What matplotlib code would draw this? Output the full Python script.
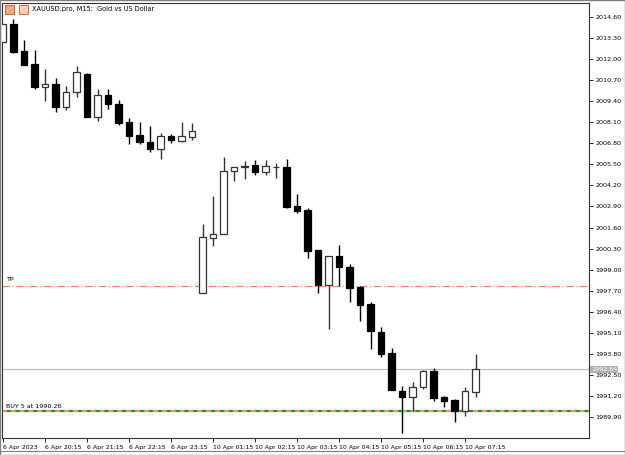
import matplotlib
matplotlib.use("Agg")
import matplotlib.pyplot as plt
from matplotlib.patches import Rectangle

opens = [2013.06,2014.17,2012.50,2011.70,2010.28,2010.46,2009.04,2009.97,2011.08,2008.42,
         2009.78,2009.23,2008.11,2007.31,2006.88,2006.45,2007.25,2006.94,2007.19,
         1997.55,2000.95,2001.20,2005.09,2005.33,2005.46,2005.03,2005.33,2005.33,2002.93,
         2002.68,2000.21,1998.05,1999.84,1999.16,1997.92,1996.87,1995.14,1993.85,1991.50,
         1991.13,1991.75,1992.73,1991.13,1990.94,1990.26,1991.44]
highs = [2014.17,2014.48,2013.18,2012.56,2011.39,2010.83,2010.34,2011.57,2011.14,2010.15,
         2010.15,2009.47,2008.36,2008.11,2007.87,2007.43,2007.37,2008.11,2008.05,
         2001.81,2003.54,2005.95,2005.33,2005.70,2005.77,2005.77,2005.58,2005.83,2003.67,
         2002.80,2000.21,1999.84,2000.52,1999.34,1997.98,1997.00,1995.45,1994.15,1991.81,
         1992.05,1992.80,1992.92,1991.19,1991.00,1991.75,1993.78]
lows = [2013.06,2012.38,2011.63,2010.15,2009.41,2008.73,2008.86,2009.66,2008.42,2008.18,
        2008.92,2007.93,2006.76,2006.76,2006.26,2005.83,2006.82,2006.90,2007.00,
        1997.55,2000.45,2001.20,2004.47,2004.59,2004.84,2004.84,2004.66,2002.80,2002.49,
        1999.71,1997.55,1995.33,1997.98,1997.00,1995.82,1994.09,1993.60,1991.56,1988.90,
        1990.26,1991.62,1990.88,1990.51,1989.58,1989.95,1991.13]
closes = [2014.17,2012.44,2011.63,2010.28,2010.46,2009.04,2009.97,2011.20,2008.42,2009.78,
          2009.23,2008.05,2007.25,2006.88,2006.45,2007.25,2007.00,2007.25,2007.56,
          2001.01,2001.20,2005.09,2005.33,2005.40,2005.03,2005.40,2005.35,2002.86,2002.62,
          2000.15,1998.05,1999.84,1999.16,1997.86,1996.81,1995.20,1993.78,1991.56,1991.13,
          1991.75,1992.73,1991.07,1990.88,1990.26,1991.50,1992.86]
x_labels = ["6 Apr 2023","6 Apr 20:15","6 Apr 21:15","6 Apr 22:15","6 Apr 23:15",
            "10 Apr 01:15","10 Apr 02:15","10 Apr 03:15","10 Apr 04:15","10 Apr 05:15",
            "10 Apr 06:15","10 Apr 07:15"]
y_ticks = [1989.90,1991.20,1992.50,1993.80,1995.10,1996.40,1997.70,1999.00,2000.30,2001.60,
           2002.90,2004.20,2005.50,2006.80,2008.10,2009.40,2010.70,2012.00,2013.30,2014.60]
current_price = 1992.84
tp_price = 1997.98
buy_price = 1990.26
buy_label = "BUY 5 at 1990.26"
title = "XAUUSD.pro, M15:  Gold vs US Dollar"

W, H = 625, 455
fig = plt.figure(figsize=(6.25, 4.55), dpi=100)
ax = fig.add_axes([2/W, 1-438/H, 587/W, 435/H])
ax.set_xlim(-0.095, 55.8)
ax.set_ylim(1988.60, 2015.465)

bw = 0.62
for i, (o, h, l, c) in enumerate(zip(opens, highs, lows, closes)):
    bull = c >= o
    ax.vlines(i, l, h, color="#000000" if not bull else "#333333", lw=1, zorder=3)
    lo, hi = min(o, c), max(o, c)
    ax.add_patch(Rectangle((i - bw/2, lo), bw, max(hi - lo, 0.02),
                           facecolor="white" if bull else "black",
                           edgecolor="#333333" if bull else "black", lw=0.9, zorder=4))

ax.axhline(current_price, color="#c0c0c0", lw=0.9, zorder=1)
ax.axhline(tp_price, color="#ff7f50", lw=0.9, ls=(0, (6, 2, 1, 2)), zorder=2)
ax.axhline(buy_price, color="#ff9060", lw=1.6, ls=(0, (2, 2)), zorder=2)
ax.axhline(buy_price, color="#2e8b2e", lw=1.6, ls=(2, (2, 2)), zorder=2)
ax.text(0.3, tp_price + 0.25, "TP", fontsize=4.6, va="bottom", ha="left")
ax.text(0.3, buy_price + 0.12, buy_label, fontsize=4.6, va="bottom", ha="left")

ax.yaxis.tick_right()
ax.set_yticks(y_ticks)
ax.set_yticklabels([f"{v:.2f}" for v in y_ticks], fontsize=4.6)
ax.tick_params(axis="y", length=3, width=0.6, pad=1.5)
ax.set_xticks(list(range(0, 46, 4)))
ax.set_xticklabels(x_labels, fontsize=4.5, ha="left")
ax.tick_params(axis="x", length=3, width=0.6, pad=2)
for spine in ax.spines.values():
    spine.set_linewidth(0.8)
    spine.set_color("#333333")

ax.text(1 + 2/587, (current_price - 1988.60)/(2015.465-1988.60), f"{current_price:.2f}",
        transform=ax.transAxes, fontsize=4.6, color="white", va="center", ha="left",
        bbox=dict(boxstyle="square,pad=0.15", fc="#b0b0b0", ec="none"), zorder=5)

fig.text(32/W, 1-9/H, title, fontsize=4.7, va="center", ha="left")
fig.patches.append(Rectangle((5/W, 1-14/H), 9/W, 9/H, transform=fig.transFigure,
                             fc="#f4a582", ec="#d05030", lw=0.6))
fig.patches.append(Rectangle((19/W, 1-14/H), 9/W, 9/H, transform=fig.transFigure,
                             fc="#fbd0b0", ec="#d05030", lw=0.6))
fig.patches.append(Rectangle((0, 0), 1, 1, transform=fig.transFigure,
                             fc="none", ec="#808080", lw=1))
fig.lines.append(plt.Line2D([0, 1], [1-451/H, 1-451/H], transform=fig.transFigure,
                            color="#808080", lw=0.8))
fig.savefig("out.png", dpi=100)
